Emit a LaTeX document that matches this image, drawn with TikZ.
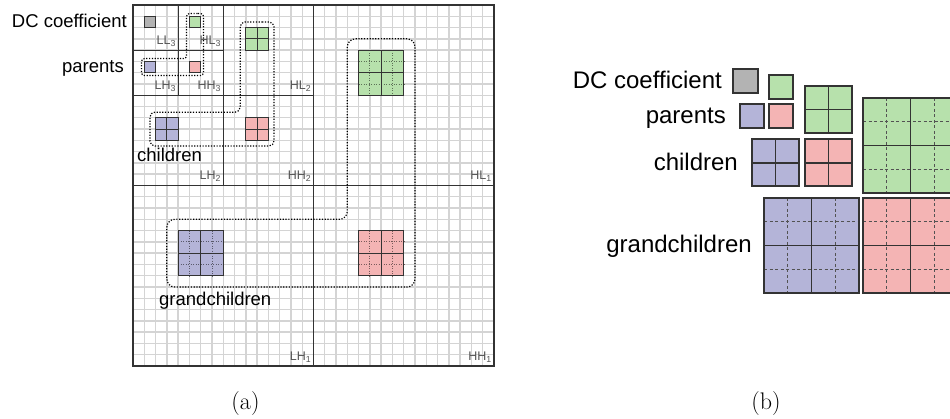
\documentclass[tikz,border=0pt]{standalone}
\usepackage{fontspec}
\newfontfamily\labfont{Liberation Sans}
\definecolor{cgray}{HTML}{B3B3B3}
\definecolor{cgreen}{HTML}{B7E1AC}
\definecolor{cblue}{HTML}{B4B4D8}
\definecolor{cpink}{HTML}{F4B4B4}
\definecolor{edgec}{HTML}{333333}
\definecolor{gridc}{HTML}{D4D4D4}
\definecolor{bandc}{HTML}{555555}
\tikzset{
  minorline/.style={draw=gridc, line width=1.4pt},
  majorline/.style={draw=edgec, line width=1.2pt},
  borderA/.style={draw=edgec, line width=1.1pt},
  innerA/.style={draw=edgec, line width=1.1pt},
  quarterA/.style={line width=0.8pt, dash pattern=on 1pt off 1.5pt},
  borderB/.style={draw=edgec, line width=2pt},
  innerB/.style={draw=edgec, line width=1.4pt},
  quarterB/.style={draw=edgec!85, line width=1pt, dash pattern=on 3pt off 2.5pt},
  group/.style={draw=black, line width=1.2pt, dash pattern=on 1.2pt off 1.6pt},
  bandlabel/.style={anchor=base east, inner sep=0pt, text=bandc,
    font=\labfont\fontsize{12.5}{14}\selectfont},
  textA/.style={inner sep=0pt, font=\labfont\fontsize{18.5}{22}\selectfont},
  textB/.style={inner sep=0pt, anchor=base east, font=\labfont\fontsize{24}{28}\selectfont},
  caption/.style={inner sep=0pt, anchor=base, font=\fontsize{24}{28}\selectfont},
}
% single coefficient: #1,#2 top-left, #3 cell size, #4 fill, #5 style set (A/B)
\newcommand\oneblock[5]{%
  \begin{scope}[shift={(#1,#2)}, x=#3pt, y=-#3pt]
    \filldraw[fill=#4, border#5] (0,0) rectangle (1,1);
  \end{scope}}
% 2x2 block of coefficients
\newcommand\duoblock[5]{%
  \begin{scope}[shift={(#1,#2)}, x=#3pt, y=-#3pt]
    \fill[#4] (0,0) rectangle (2,2);
    \draw[inner#5] (1,0) -- (1,2) (0,1) -- (2,1);
    \draw[border#5] (0,0) rectangle (2,2);
  \end{scope}}
% 4x4 block: 2x2 quadrants, each split again by finer lines
\newcommand\quadblock[5]{%
  \begin{scope}[shift={(#1,#2)}, x=#3pt, y=-#3pt]
    \fill[#4] (0,0) rectangle (4,4);
    \draw[draw=#4!50!black, quarter#5] (1,0) -- (1,4) (3,0) -- (3,4) (0,1) -- (4,1) (0,3) -- (4,3);
    \draw[inner#5] (2,0) -- (2,4) (0,2) -- (4,2);
    \draw[border#5] (0,0) rectangle (4,4);
  \end{scope}}
\begin{document}
\begin{tikzpicture}[x=1pt, y=-1pt]
\useasboundingbox (0,0) rectangle (950,419);
\clip (0,0) rectangle (950,419);
\fill[white] (0,0) rectangle (950,419);

% ---------- (a) three-level wavelet decomposition ----------
\begin{scope}[shift={(133,5)}, x=11.28pt, y=-11.28pt]
  \foreach \i in {1,...,31} {
    \draw[minorline] (\i,0) -- (\i,32);
    \draw[minorline] (0,\i) -- (32,\i);
  }
  % coefficients of one tree
  \oneblock{1}{1}{11.28}{cgray}{A}
  \oneblock{5}{1}{11.28}{cgreen}{A}
  \oneblock{1}{5}{11.28}{cblue}{A}
  \oneblock{5}{5}{11.28}{cpink}{A}
  \duoblock{10}{2}{11.28}{cgreen}{A}
  \duoblock{2}{10}{11.28}{cblue}{A}
  \duoblock{10}{10}{11.28}{cpink}{A}
  \quadblock{20}{4}{11.28}{cgreen}{A}
  \quadblock{4}{20}{11.28}{cblue}{A}
  \quadblock{20}{20}{11.28}{cpink}{A}
  % subband boundaries
  \draw[majorline] (16,0) -- (16,32) (0,16) -- (32,16)
                   (8,0) -- (8,16) (0,8) -- (16,8)
                   (4,0) -- (4,8) (0,4) -- (8,4);
  \draw[majorline] (0,0) rectangle (32,32);
  % generations of the tree
  \draw[group, rounded corners=3pt] (5.5,0.75) -- (6.25,0.75) -- (6.25,6.25) -- (0.75,6.25)
        -- (0.75,4.75) -- (4.75,4.75) -- (4.75,0.75) -- cycle;
  \draw[group, rounded corners=5pt] (11,1.5) -- (12.5,1.5) -- (12.5,12.5) -- (1.5,12.5)
        -- (1.5,9.5) -- (9.5,9.5) -- (9.5,1.5) -- cycle;
  \draw[group, rounded corners=8pt] (22,3) -- (25,3) -- (25,25) -- (3,25)
        -- (3,19) -- (19,19) -- (19,3) -- cycle;
  % subband names
  \node[bandlabel, xshift=-2pt, yshift=5.5pt] (ll3) at (4,4) {LL\textsubscript{3}};
  \node[bandlabel, xshift=-2pt, yshift=5.5pt] (hl3) at (8,4) {HL\textsubscript{3}};
  \node[bandlabel, xshift=-2pt, yshift=5.5pt] (lh3) at (4,8) {LH\textsubscript{3}};
  \node[bandlabel, xshift=-2pt, yshift=5.5pt] (hh3) at (8,8) {HH\textsubscript{3}};
  \node[bandlabel, xshift=-2pt, yshift=5.5pt] (hl2) at (16,8) {HL\textsubscript{2}};
  \node[bandlabel, xshift=-2pt, yshift=5.5pt] (lh2) at (8,16) {LH\textsubscript{2}};
  \node[bandlabel, xshift=-2pt, yshift=5.5pt] (hh2) at (16,16) {HH\textsubscript{2}};
  \node[bandlabel, xshift=-2pt, yshift=5.5pt] (hl1) at (32,16) {HL\textsubscript{1}};
  \node[bandlabel, xshift=-2pt, yshift=5.5pt] (lh1) at (16,32) {LH\textsubscript{1}};
  \node[bandlabel, xshift=-2pt, yshift=5.5pt] (hh1) at (32,32) {HH\textsubscript{1}};
\end{scope}
\node[textA, anchor=base east] (dcA) at (127,28) {DC coefficient};
\node[textA, anchor=base east] (parA) at (124,72.5) {parents};
\node[textA, anchor=base west] (chA) at (137,162) {children};
\node[textA, anchor=base west] (gcA) at (159,306) {grandchildren};

% ---------- (b) the tree's coefficients grouped by generation ----------
\oneblock{733}{69}{24.5}{cgray}{B}
\oneblock{769}{75}{24}{cgreen}{B}
\oneblock{740}{104}{24}{cblue}{B}
\oneblock{769}{104}{24}{cpink}{B}
\duoblock{805}{86}{23.5}{cgreen}{B}
\duoblock{752}{139.5}{23.5}{cblue}{B}
\duoblock{805}{139.5}{23.5}{cpink}{B}
\quadblock{863}{98}{23.7}{cgreen}{B}
\quadblock{764}{198}{23.7}{cblue}{B}
\quadblock{863}{198}{23.7}{cpink}{B}
\node[textB] (dcB) at (722,89) {DC coefficient};
\node[textB] (parB) at (726,124) {parents};
\node[textB] (chB) at (738,171) {children};
\node[textB] (gcB) at (752,252.5) {grandchildren};

% ---------- captions ----------
\node[caption] (capa) at (245.5,409.5) {(a)};
\node[caption] (capb) at (766,409.5) {(b)};
\end{tikzpicture}
\end{document}
